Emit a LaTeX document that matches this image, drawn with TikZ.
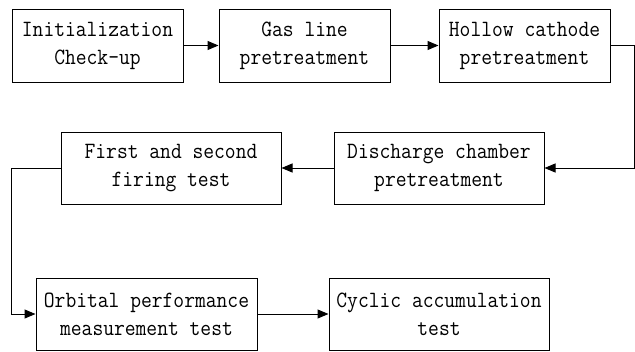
\documentclass[tikz,border=0pt]{standalone}
\usepackage{fontspec}
\newfontfamily\boxfont[FakeStretch=0.9]{Latin Modern Mono}
\usetikzlibrary{arrows.meta}
\begin{document}
\begin{tikzpicture}[x=1pt,y=-1pt,
  stepbox/.style={draw=black, line width=1pt, rectangle, align=center, inner sep=0pt,
    font=\boxfont\fontsize{23.3}{28}\selectfont},
  conn/.style={line width=1pt, -{Triangle[length=11pt,width=9pt]}}]
\useasboundingbox (0,0) rectangle (635,351);
\node[stepbox, minimum width=171pt, minimum height=73pt] (b1) at (97.5,45.5) {Initialization\\Check-up};
\node[stepbox, minimum width=171pt, minimum height=73pt] (b2) at (304.5,45.5) {Gas line\\pretreatment};
\node[stepbox, minimum width=171pt, minimum height=73pt] (b3) at (524.5,45.5) {Hollow cathode\\pretreatment};
\node[stepbox, minimum width=210pt, minimum height=72pt] (b4) at (439,168) {Discharge chamber\\pretreatment};
\node[stepbox, minimum width=220pt, minimum height=72pt] (b5) at (171,168) {First and second\\firing test};
\node[stepbox, minimum width=221pt, minimum height=72pt] (b6) at (146.5,314) {Orbital performance\\measurement test};
\node[stepbox, minimum width=220pt, minimum height=72pt] (b7) at (439,314) {Cyclic accumulation\\test};
\draw[conn] (b1.east) -- (b2.west);
\draw[conn] (b2.east) -- (b3.west);
\draw[conn] (b3.east) -- ++(24,0) |- (b4.east);
\draw[conn] (b4.west) -- (b5.east);
\draw[conn] (b5.west) -- ++(-49,0) |- (b6.west);
\draw[conn] (b6.east) -- (b7.west);
\end{tikzpicture}
\end{document}
